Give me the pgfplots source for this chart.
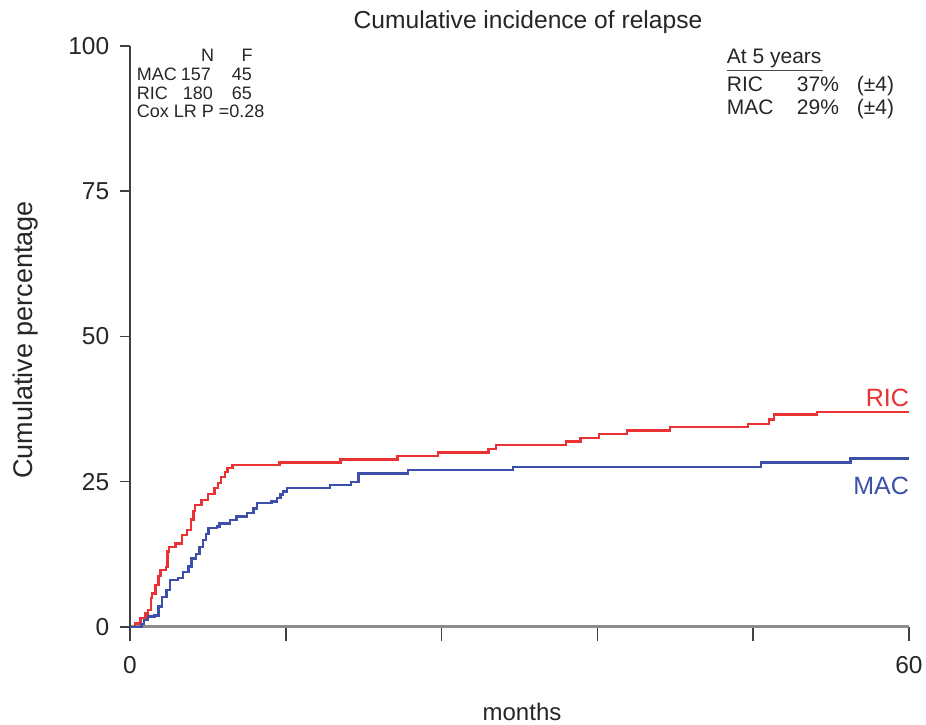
\documentclass[border=0pt]{standalone}
\usepackage{pgfplots}
\pgfplotsset{compat=1.18}
\usepackage{fontspec}
\setmainfont{Liberation Sans}
\definecolor{ric}{RGB}{234,50,52}
\definecolor{mac}{RGB}{60,80,170}
\newcommand{\fs}[1]{\fontsize{#1}{#1}\selectfont}
\begin{document}
\begin{tikzpicture}
\path[use as bounding box] (-130pt,-98pt) rectangle (796pt,627pt);
\begin{axis}[
  at={(0pt,0pt)}, anchor=south west,
  scale only axis, width=779pt, height=581pt,
  xmin=0, xmax=60, ymin=0, ymax=100,
  axis x line*=bottom, axis y line*=left,
  x axis line style={black!45, line width=3pt},
  y axis line style={black!75, line width=1.5pt},
  xtick={0,12,24,36,48,60}, xticklabels={0,,,,,60},
  ytick={0,25,50,75,100},
  tick align=outside,
  xtick style={black!75, line width=1.5pt, /pgfplots/major tick length=14pt},
  ytick style={black!75, line width=1.5pt, /pgfplots/major tick length=10pt},
  tick label style={font=\fs{24.5}, text=black!85},
  xticklabel style={yshift=-22pt},
  yticklabel style={xshift=-13pt},
  /pgf/number format/assume math mode=true,
  clip=false,
]
\addplot[const plot, color=ric, line width=2.4pt] coordinates {
(0,0) (0.4,0.6) (0.8,1.5) (1.2,2.3) (1.4,2.9) (1.6,5.0) (1.7,5.8) (1.95,7.2)
(2.2,8.8) (2.35,9.8) (2.75,10.3) (2.9,13.0) (3.0,13.8) (3.5,14.4) (4.0,15.8)
(4.4,16.7) (4.7,18.5) (4.9,20.0) (5.0,21.0) (5.5,21.9) (6.0,22.9) (6.5,23.9)
(6.8,24.8) (7.0,25.8) (7.3,26.7) (7.5,27.4) (7.9,27.9) (11.5,28.3) (16.2,28.8)
(20.6,29.4) (23.7,30.0) (27.6,30.6) (28.2,31.3) (33.6,31.9) (34.7,32.5)
(36.1,33.2) (38.3,33.8) (41.6,34.4) (47.6,34.9) (49.2,35.7) (49.6,36.6)
(52.9,37.0) (60,37.0)
};
\addplot[const plot, color=mac, line width=2.4pt] coordinates {
(0,0) (0.9,0.5) (1.1,1.2) (1.4,1.8) (1.9,2.0) (2.2,3.5) (2.45,5.2) (2.8,6.4)
(3.1,8.1) (3.7,8.4) (4.1,9.5) (4.5,10.4) (4.75,11.8) (5.1,12.6) (5.35,13.8)
(5.6,15.0) (5.85,16.0) (6.05,17.0) (6.7,17.3) (6.9,17.8) (7.7,18.4) (8.2,19.0)
(9.0,19.6) (9.5,20.4) (9.8,21.3) (10.9,21.6) (11.3,22.2) (11.6,22.8) (11.8,23.3)
(12.1,23.9) (15.4,24.4) (17.0,25.0) (17.6,26.4) (21.4,27.0) (29.5,27.5)
(48.6,28.3) (55.5,29.0) (60,29.0)
};
\end{axis}
% title and axis labels
\node[anchor=base, font=\fs{24.6}, text=black!85] at (398pt,598pt) {Cumulative incidence of relapse};
\node[anchor=base, font=\fs{27}, text=black!85, rotate=90] at (-97pt,287pt) {Cumulative percentage};
\node[anchor=base, font=\fs{24}, text=black!85] at (392pt,-93pt) {months};
% top-left annotation
\begin{scope}[every node/.style={font=\fs{18}, text=black!85, inner sep=0pt}]
\node[anchor=base] at (77.5pt,565pt) {N};
\node[anchor=base] at (117pt,565pt) {F};
\node[anchor=base west] at (6.7pt,546pt) {MAC};
\node[anchor=base east] at (81pt,546pt) {157};
\node[anchor=base east] at (122pt,546pt) {45};
\node[anchor=base west] at (6.7pt,527.5pt) {RIC};
\node[anchor=base east] at (83pt,527.5pt) {180};
\node[anchor=base east] at (122pt,527.5pt) {65};
\node[anchor=base west] at (6.7pt,509.5pt) {Cox LR P =0.28};
\end{scope}
% top-right annotation
\begin{scope}[every node/.style={font=\fs{21}, text=black!85, inner sep=0pt}]
\node[anchor=base west] at (596.7pt,563pt) {At 5 years};
\draw[black!70, line width=1pt] (596.7pt,556pt) -- (693.3pt,556pt);
\node[anchor=base west] at (596.7pt,535.3pt) {RIC};
\node[anchor=base west] at (666.7pt,535.3pt) {37\%};
\node[anchor=base west] at (726.7pt,535.3pt) {(±4)};
\node[anchor=base west] at (596.7pt,512pt) {MAC};
\node[anchor=base west] at (666.7pt,512pt) {29\%};
\node[anchor=base west] at (726.7pt,512pt) {(±4)};
\end{scope}
% curve labels
\node[anchor=base east, inner sep=0pt, font=\fs{25}, text=ric] at (779pt,220.3pt) {RIC};
\node[anchor=base east, inner sep=0pt, font=\fs{25}, text=mac] at (779pt,132pt) {MAC};
\end{tikzpicture}
\end{document}
